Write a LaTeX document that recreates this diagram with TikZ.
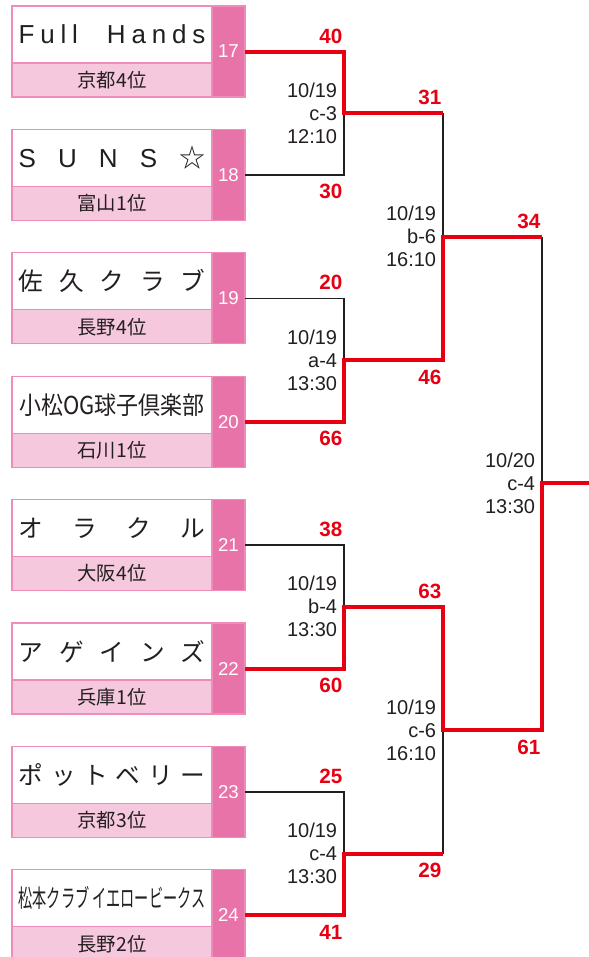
\documentclass[tikz,border=0pt]{standalone}
\usepackage{fontspec}
\usepackage{graphicx}
\usepackage{xcolor}
\usepackage{tikz}
\usetikzlibrary{positioning,calc}
\setmainfont{Liberation Sans}
\newfontfamily\jp{Noto Sans CJK JP}
\definecolor{cupred}{HTML}{E60012}
\definecolor{cupstrip}{HTML}{E873A8}
\definecolor{cuplight}{HTML}{F6C8DD}
\definecolor{cupedge}{HTML}{EE8CBA}
\definecolor{cupdark}{HTML}{231F20}
\newcommand{\spreadname}[1]{\makebox[140pt][s]{#1}}

\begin{document}
\begin{tikzpicture}[
  x=0.75pt, y=-0.75pt,
  teamname/.style={
    rectangle,
    draw=cupedge,
    fill=white,
    line width=0.9pt,
    outer sep=0pt,
    inner sep=0pt,
    minimum width=150pt,
    minimum height=42.75pt,
    text=cupdark,
    font=\fontsize{18.5}{20}\selectfont\jp
  },
  teamloc/.style={
    rectangle,
    draw=cupedge,
    fill=cuplight,
    line width=0.9pt,
    outer sep=0pt,
    inner sep=0pt,
    minimum width=150pt,
    minimum height=25.5pt,
    text=cupdark,
    font=\fontsize{14.5}{16}\selectfont\jp
  },
  teamno/.style={
    rectangle,
    draw=cupedge,
    fill=cupstrip,
    line width=0.9pt,
    outer sep=0pt,
    inner sep=0pt,
    minimum width=24.75pt,
    minimum height=68.25pt,
    text=white,
    font=\fontsize{14}{16}\selectfont
  },
  won/.style={draw=cupred, line width=3pt},
  lost/.style={draw=cupdark, line width=1.2pt},
  scoreup/.style={anchor=south east, inner sep=0pt, xshift=-1pt, yshift=6pt,
    text=cupred, font=\fontsize{15.5}{17}\selectfont\bfseries},
  scoredown/.style={anchor=north east, inner sep=0pt, xshift=-1pt, yshift=-7pt,
    text=cupred, font=\fontsize{15.5}{17}\selectfont\bfseries},
  matchinfo/.style={anchor=east, inner sep=0pt, xshift=-5pt, align=right,
    text=cupdark, font=\fontsize{15}{17.25}\selectfont}
]
\useasboundingbox (0,0) rectangle (589,957);

% teams
\node[teamname, anchor=north west] (name17) at (12,6)
  {\spreadname{\rmfamily\fontsize{19.5}{22}\selectfont F\hfill u\hfill l\hfill l\hfill\hfill\hfill\hfill\hfill H\hfill a\hfill n\hfill d\hfill s}};
\node[teamloc, below=0pt of name17] (loc17) {京都4位};
\node[teamno, anchor=north west] (n17) at (name17.north east) {\raisebox{-2.6pt}{17}};

\node[teamname, below=24.3pt of loc17] (name18)
  {\spreadname{\rmfamily\fontsize{19.5}{22}\selectfont S\hfill U\hfill N\hfill S\hfill{\jp ☆}}};
\node[teamloc, below=0pt of name18] (loc18) {富山1位};
\node[teamno, anchor=north west] (n18) at (name18.north east) {\raisebox{-2.6pt}{18}};

\node[teamname, below=24.3pt of loc18] (name19)
  {\spreadname{佐\hfill 久\hfill ク\hfill ラ\hfill ブ}};
\node[teamloc, below=0pt of name19] (loc19) {長野4位};
\node[teamno, anchor=north west] (n19) at (name19.north east) {\raisebox{-2.6pt}{19}};

\node[teamname, below=24.3pt of loc19] (name20)
  {\resizebox{139pt}{\height}{小松OG球子倶楽部}};
\node[teamloc, below=0pt of name20] (loc20) {石川1位};
\node[teamno, anchor=north west] (n20) at (name20.north east) {\raisebox{-2.6pt}{20}};

\node[teamname, below=24.3pt of loc20] (name21)
  {\spreadname{オ\hfill ラ\hfill ク\hfill ル}};
\node[teamloc, below=0pt of name21] (loc21) {大阪4位};
\node[teamno, anchor=north west] (n21) at (name21.north east) {\raisebox{-2.6pt}{21}};

\node[teamname, below=24.3pt of loc21] (name22)
  {\spreadname{ア\hfill ゲ\hfill イ\hfill ン\hfill ズ}};
\node[teamloc, below=0pt of name22] (loc22) {兵庫1位};
\node[teamno, anchor=north west] (n22) at (name22.north east) {\raisebox{-2.6pt}{22}};

\node[teamname, below=24.3pt of loc22] (name23)
  {\spreadname{ポ\hfill ッ\hfill ト\hfill ベ\hfill リ\hfill ー}};
\node[teamloc, below=0pt of name23] (loc23) {京都3位};
\node[teamno, anchor=north west] (n23) at (name23.north east) {\raisebox{-2.6pt}{23}};

\node[teamname, below=24.3pt of loc23] (name24)
  {\resizebox{140pt}{\height}{松本クラブ イエロービークス}};
\node[teamloc, below=0pt of name24] (loc24) {長野2位};
\node[teamno, anchor=north west] (n24) at (name24.north east) {\raisebox{-2.6pt}{24}};

% match points
\coordinate (m1) at ($(n17.east)!.5!(n18.east) + (99,0)$);
\coordinate (m2) at ($(n19.east)!.5!(n20.east) + (99,0)$);
\coordinate (m3) at ($(n21.east)!.5!(n22.east) + (99,0)$);
\coordinate (m4) at ($(n23.east)!.5!(n24.east) + (99,0)$);
\coordinate (r1) at ($(m1)!.5!(m2) + (99,0)$);
\coordinate (r2) at ($(m3)!.5!(m4) + (99,0)$);
\coordinate (fin) at ($(r1)!.5!(r2) + (99,0)$);
\coordinate (champ) at ($(fin) + (47,0)$);

% losers
\draw[lost] (n18.east) -| (m1);
\draw[lost] (n19.east) -| (m2);
\draw[lost] (n21.east) -| (m3);
\draw[lost] (n23.east) -| (m4);
\draw[lost] (m1 -| r1) -- (r1);
\draw[lost] (m4 -| r2) -- (r2);
\draw[lost] (r1 -| fin) -- (fin);

% winners
\draw[won] (n17.east) -| (m1) -- (m1 -| r1);
\draw[won] (n20.east) -| (m2) -| (r1) -- (r1 -| fin);
\draw[won] (n24.east) -| (m4) -- (m4 -| r2);
\draw[won] (n22.east) -| (m3) -| (r2) -| (fin) -- (champ);

% scores
\node[scoreup] (s17) at (m1 |- n17.east) {40};
\node[scoredown] (s18) at (m1 |- n18.east) {30};
\node[scoreup] (s19) at (m2 |- n19.east) {20};
\node[scoredown] (s20) at (m2 |- n20.east) {66};
\node[scoreup] (s21) at (m3 |- n21.east) {38};
\node[scoredown] (s22) at (m3 |- n22.east) {60};
\node[scoreup] (s23) at (m4 |- n23.east) {25};
\node[scoredown] (s24) at (m4 |- n24.east) {41};
\node[scoreup] (s31) at (m1 -| r1) {31};
\node[scoredown] (s46) at (m2 -| r1) {46};
\node[scoreup] (s63) at (m3 -| r2) {63};
\node[scoredown] (s29) at (m4 -| r2) {29};
\node[scoreup] (s34) at (r1 -| fin) {34};
\node[scoredown] (s61) at (r2 -| fin) {61};

% match info
\node[matchinfo] (g1) at (m1) {10/19\\c-3\\12:10};
\node[matchinfo] (g2) at (m2) {10/19\\a-4\\13:30};
\node[matchinfo] (g3) at (m3) {10/19\\b-4\\13:30};
\node[matchinfo] (g4) at (m4) {10/19\\c-4\\13:30};
\node[matchinfo] (g5) at (r1) {10/19\\b-6\\16:10};
\node[matchinfo] (g6) at (r2) {10/19\\c-6\\16:10};
\node[matchinfo] (g7) at (fin) {10/20\\c-4\\13:30};

\end{tikzpicture}
\end{document}
